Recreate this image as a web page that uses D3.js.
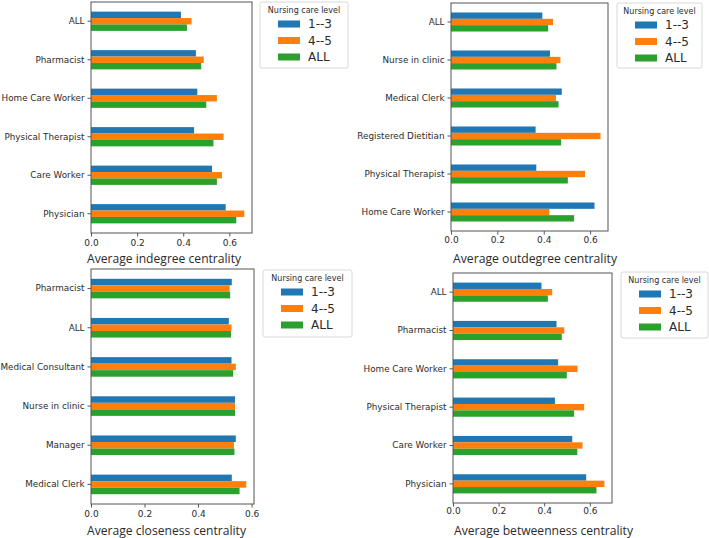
<!DOCTYPE html>
<html>
<head>
<meta charset="utf-8">
<script src="https://cdn.jsdelivr.net/npm/d3@7"></script>
<style>
  html, body { margin: 0; padding: 0; background: #fff; }
  svg { display: block; }
  text { font-family: "DejaVu Sans", sans-serif; fill: #2b2b2b; }
</style>
</head>
<body>
<svg id="chart" width="709" height="538"></svg>
<script>
// ---------------- Data ----------------
const seriesNames = ["1--3", "4--5", "ALL"];
const seriesColors = ["#1f77b4", "#ff7f0e", "#2ca02c"];
const legendTitle = "Nursing care level";
const tickValues = [0, 0.2, 0.4, 0.6];
const tickLabels = ["0.0", "0.2", "0.4", "0.6"];

const indegreeCategories = ["ALL", "Pharmacist", "Home Care Worker", "Physical Therapist", "Care Worker", "Physician"];
const indegreeLow  = [0.390, 0.455, 0.461, 0.447, 0.525, 0.584];
const indegreeHigh = [0.436, 0.489, 0.546, 0.575, 0.568, 0.665];
const indegreeAll  = [0.416, 0.478, 0.500, 0.531, 0.546, 0.630];

const outdegreeCategories = ["ALL", "Nurse in clinic", "Medical Clerk", "Registered Dietitian", "Physical Therapist", "Home Care Worker"];
const outdegreeLow  = [0.394, 0.427, 0.478, 0.365, 0.368, 0.619];
const outdegreeHigh = [0.440, 0.472, 0.453, 0.645, 0.578, 0.424];
const outdegreeAll  = [0.419, 0.455, 0.464, 0.475, 0.504, 0.531];

const closenessCategories = ["Pharmacist", "ALL", "Medical Consultant", "Nurse in clinic", "Manager", "Medical Clerk"];
const closenessLow  = [0.526, 0.515, 0.525, 0.538, 0.541, 0.526];
const closenessHigh = [0.518, 0.525, 0.541, 0.538, 0.534, 0.580];
const closenessAll  = [0.520, 0.523, 0.531, 0.538, 0.536, 0.555];

const betweennessCategories = ["ALL", "Pharmacist", "Home Care Worker", "Physical Therapist", "Care Worker", "Physician"];
const betweennessLow  = [0.388, 0.454, 0.461, 0.447, 0.523, 0.584];
const betweennessHigh = [0.435, 0.488, 0.546, 0.575, 0.568, 0.664];
const betweennessAll  = [0.416, 0.477, 0.499, 0.531, 0.545, 0.629];

const titles = ["Average indegree centrality", "Average outdegree centrality",
                "Average closeness centrality", "Average betweenness centrality"];

// ---------------- Layout ----------------
const panels = [
  { cats: indegreeCategories, series: [indegreeLow, indegreeHigh, indegreeAll], title: titles[0],
    box: { l: 91, r: 252, t: 2, b: 233 }, xlab: { x: 87, y: 262.5, w: 154 }, tickDy: 0,
    legend: { x: 260, y: 2, w: 88, h: 66 } },
  { cats: outdegreeCategories, series: [outdegreeLow, outdegreeHigh, outdegreeAll], title: titles[1],
    box: { l: 451, r: 608, t: 3, b: 231 }, xlab: { x: 453, y: 263, w: 164 }, tickDy: -1,
    legend: { x: 617, y: 3, w: 85, h: 65 } },
  { cats: closenessCategories, series: [closenessLow, closenessHigh, closenessAll], title: titles[2],
    box: { l: 91, r: 254, t: 269, b: 504 }, xlab: { x: 87, y: 534.5, w: 159 }, tickDy: 0,
    legend: { x: 263, y: 270, w: 89, h: 67 } },
  { cats: betweennessCategories, series: [betweennessLow, betweennessHigh, betweennessAll], title: titles[3],
    box: { l: 453, r: 612, t: 273, b: 503 }, xlab: { x: 454, y: 534.5, w: 179 }, tickDy: -2,
    legend: { x: 621, y: 272, w: 87, h: 66 } }
];

const svg = d3.select("#chart");

panels.forEach(p => {
  const g = svg.append("g");
  const maxV = d3.max(p.series.flat());
  const x = d3.scaleLinear().domain([0, maxV * 1.05]).range([p.box.l, p.box.r]);
  const y = d3.scaleBand().domain(p.cats).range([p.box.t, p.box.b]).padding(0);
  const groupH = y.bandwidth() * 0.5;
  const barH = groupH / 3;

  // bars
  p.series.forEach((vals, si) => {
    g.append("g").selectAll("rect")
      .data(p.cats.map((c, i) => ({ c, v: vals[i] })))
      .join("rect")
      .attr("x", x(0))
      .attr("y", d => y(d.c) + y.bandwidth() / 2 - groupH / 2 + si * barH)
      .attr("width", d => x(d.v) - x(0))
      .attr("height", barH)
      .attr("fill", seriesColors[si]);
  });

  // frame
  g.append("rect")
    .attr("x", p.box.l).attr("y", p.box.t)
    .attr("width", p.box.r - p.box.l).attr("height", p.box.b - p.box.t)
    .attr("fill", "none").attr("stroke", "#555").attr("stroke-width", 1);

  // x axis
  const xAxis = d3.axisBottom(x).tickValues(tickValues)
    .tickFormat((d, i) => tickLabels[i]).tickSize(3.5).tickPadding(3 + p.tickDy);
  const xg = g.append("g").attr("transform", `translate(0,${p.box.b})`).call(xAxis);
  xg.select(".domain").remove();
  xg.selectAll("line").attr("stroke", "#555");
  xg.selectAll("text").attr("font-size", "9px").attr("fill", "#333")
    .style("font-family", "DejaVu Sans, sans-serif");

  // y axis
  const yAxis = d3.axisLeft(y).tickSize(3.5).tickPadding(3);
  const yg = g.append("g").attr("transform", `translate(${p.box.l},0)`).call(yAxis);
  yg.select(".domain").remove();
  yg.selectAll("line").attr("stroke", "#555");
  yg.selectAll("text").attr("font-size", "8.8px").attr("fill", "#333")
    .style("font-family", "DejaVu Sans, sans-serif");

  // x label
  g.append("text")
    .attr("x", p.xlab.x).attr("y", p.xlab.y)
    .attr("textLength", p.xlab.w).attr("lengthAdjust", "spacingAndGlyphs")
    .attr("font-size", "12.5px").attr("fill", "#444")
    .style("font-family", "'Open Sans', sans-serif")
    .text(p.title);

  // legend
  const L = p.legend;
  const lg = g.append("g").attr("transform", `translate(${L.x},${L.y})`);
  lg.append("rect").attr("width", L.w).attr("height", L.h)
    .attr("rx", 2).attr("fill", "#fff").attr("stroke", "#d8d8d8");
  lg.append("text").attr("x", L.w / 2).attr("y", 10.5)
    .attr("text-anchor", "middle").attr("font-size", "8px").attr("fill", "#333")
    .text(legendTitle);
  seriesNames.forEach((name, i) => {
    const cy = 22 + i * 16.5;
    lg.append("rect").attr("x", 18).attr("y", cy - 3.5).attr("width", 22).attr("height", 7)
      .attr("fill", seriesColors[i]);
    lg.append("text").attr("x", 48).attr("y", cy).attr("dy", "0.36em")
      .attr("font-size", "12px").attr("fill", "#333").text(name);
  });
});
</script>
</body>
</html>
